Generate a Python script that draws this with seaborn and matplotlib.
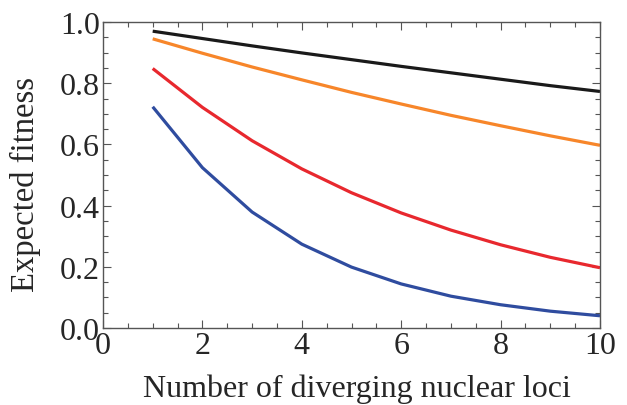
import numpy as np
import pandas as pd
import seaborn as sns
import matplotlib.pyplot as plt
from matplotlib.ticker import MultipleLocator

loci = [1, 2, 3, 4, 5, 6, 7, 8, 9, 10]
black = [0.970, 0.946, 0.922, 0.899, 0.877, 0.855, 0.834, 0.813, 0.792, 0.773]
orange = [0.945, 0.898, 0.853, 0.811, 0.770, 0.732, 0.695, 0.661, 0.628, 0.597]
red = [0.848, 0.721, 0.612, 0.520, 0.442, 0.376, 0.320, 0.272, 0.231, 0.197]
blue = [0.723, 0.524, 0.379, 0.274, 0.199, 0.144, 0.104, 0.076, 0.055, 0.040]

df = pd.concat([
    pd.DataFrame({"loci": loci, "fitness": black, "series": "a"}),
    pd.DataFrame({"loci": loci, "fitness": orange, "series": "b"}),
    pd.DataFrame({"loci": loci, "fitness": red, "series": "c"}),
    pd.DataFrame({"loci": loci, "fitness": blue, "series": "d"}),
])
palette = {"a": "#1a1a1a", "b": "#f7862a", "c": "#e8282e", "d": "#2f4c9f"}

sns.set_style("ticks")
plt.rcParams['font.family'] = ['Liberation Serif', 'DejaVu Serif']

fig = plt.figure(figsize=(6.27, 4.06), dpi=100)
ax = fig.add_axes([103 / 627, 1 - 329 / 406, 497 / 627, 306 / 406])
sns.lineplot(data=df, x="loci", y="fitness", hue="series", palette=palette,
             linewidth=2.3, legend=False, ax=ax, solid_capstyle="butt")

ax.set_xlim(0, 10)
ax.set_ylim(0, 1)
ax.xaxis.set_major_locator(MultipleLocator(2))
ax.xaxis.set_minor_locator(MultipleLocator(0.5))
ax.yaxis.set_major_locator(MultipleLocator(0.2))
ax.yaxis.set_minor_locator(MultipleLocator(0.05))
ax.xaxis.set_major_formatter(lambda v, p: f"{v:.0f}")
ax.yaxis.set_major_formatter(lambda v, p: f"{v:.1f}")

frame = "#555555"
for s in ax.spines.values():
    s.set_visible(True)
    s.set_color(frame)
    s.set_linewidth(1.0)
ax.tick_params(which="both", direction="in", top=True, right=True, color=frame, width=0.8)
ax.tick_params(which="major", length=6, labelsize=23, pad=2)
ax.tick_params(which="minor", length=3.5)

ax.set_xlabel("Number of diverging nuclear loci", fontsize=23)
ax.set_ylabel("Expected fitness", fontsize=23.5)
ax.xaxis.set_label_coords(0.511, -0.148)
ax.yaxis.set_label_coords(-0.125, 0.473)

fig.savefig("out.png", dpi=100)
